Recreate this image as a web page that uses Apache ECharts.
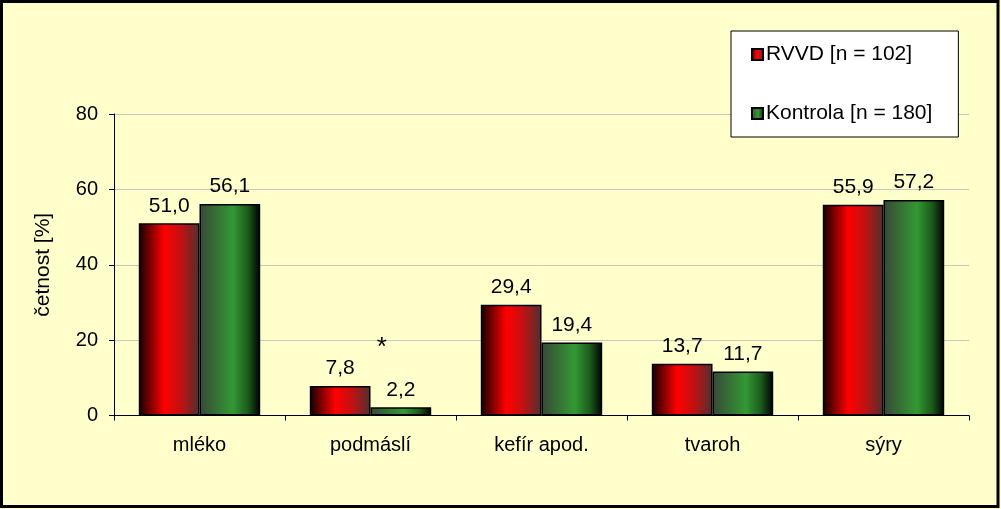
<!DOCTYPE html>
<html><head><meta charset="utf-8">
<script src="https://cdn.jsdelivr.net/npm/echarts@6/dist/echarts.min.js"></script>
<style>html,body{margin:0;padding:0;background:#FFFFCC;}#c{width:1001px;height:509px;}</style>
</head><body><div id="c"></div>
<script>
const categories = ['mléko', 'podmáslí', 'kefír apod.', 'tvaroh', 'sýry'];
const seriesNames = ['RVVD [n = 102]', 'Kontrola [n = 180]'];
const rvvd = [51.0, 7.8, 29.4, 13.7, 55.9];
const kontrola = [56.1, 2.2, 19.4, 11.7, 57.2];
const yTicks = [0, 20, 40, 60, 80];
const annotation = { category: 'podmáslí', value: 2.2, text: '*' };

const FONT = 'Liberation Sans, Arial, sans-serif';
const fmt = p => p.value.toFixed(1).replace('.', ',');

const redGrad = new echarts.graphic.LinearGradient(0, 0, 1, 0, [
  { offset: 0, color: '#140000' },
  { offset: 0.42, color: '#ff0000' },
  { offset: 0.7, color: '#c01212' },
  { offset: 1, color: '#503030' }
]);
const greenGrad = new echarts.graphic.LinearGradient(0, 0, 1, 0, [
  { offset: 0, color: '#384838' },
  { offset: 0.55, color: '#339933' },
  { offset: 0.8, color: '#1c5a1c' },
  { offset: 1, color: '#000000' }
]);

const chart = echarts.init(document.getElementById('c'));
chart.setOption({
  backgroundColor: '#FFFFCC',
  animation: false,
  textStyle: { fontFamily: FONT },
  graphic: [{
    type: 'rect', z: 100,
    shape: { x: 1.5, y: 1.5, width: 996.5, height: 505 },
    style: { fill: 'none', stroke: '#000', lineWidth: 3 }
  }],
  grid: { left: 114, right: 32, top: 114, bottom: 93.5 },
  legend: {
    data: seriesNames,
    orient: 'vertical',
    left: 731, top: 31,
    padding: [13, 26, 13, 20],
    itemGap: 38,
    itemWidth: 11, itemHeight: 11,
    icon: 'rect',
    backgroundColor: '#ffffff',
    borderColor: '#000', borderWidth: 1,
    textStyle: { fontSize: 21, color: '#000', fontFamily: FONT, padding: [0, 0, 0, -2] }
  },
  xAxis: {
    type: 'category',
    data: categories,
    axisLine: { lineStyle: { color: '#000', width: 1 } },
    axisTick: { show: true, length: 5, lineStyle: { color: '#000' } },
    axisLabel: { fontSize: 20, color: '#000', margin: 20, fontFamily: FONT }
  },
  yAxis: {
    type: 'value',
    min: yTicks[0], max: yTicks[yTicks.length - 1], interval: 20,
    name: 'četnost [%]',
    nameLocation: 'middle',
    nameGap: 60,
    nameTextStyle: { fontSize: 21, color: '#000', fontFamily: FONT },
    axisLine: { show: true, lineStyle: { color: '#000', width: 1 } },
    axisTick: { show: true, length: 5, lineStyle: { color: '#000' } },
    axisLabel: { fontSize: 20, color: '#000', margin: 16, fontFamily: FONT },
    splitLine: { show: true, lineStyle: { color: '#c8c8c0', width: 1 } }
  },
  series: [
    {
      name: seriesNames[0], type: 'bar', data: rvvd,
      barGap: '0%', barCategoryGap: '29%',
      itemStyle: { color: redGrad, borderColor: '#000', borderWidth: 1.5 },
      label: { show: true, position: 'top', distance: 7, formatter: fmt, fontSize: 21, color: '#000', fontFamily: FONT }
    },
    {
      name: seriesNames[1], type: 'bar', data: kontrola,
      barGap: '0%', barCategoryGap: '29%',
      itemStyle: { color: greenGrad, borderColor: '#000', borderWidth: 1.5 },
      label: { show: true, position: 'top', distance: 7, formatter: fmt, fontSize: 21, color: '#000', fontFamily: FONT },
      markPoint: {
        symbol: 'circle', symbolSize: 0,
        data: [{ coord: [annotation.category, annotation.value], value: annotation.text }],
        label: { show: true, formatter: annotation.text, fontSize: 26, color: '#000', offset: [-19, -59], fontFamily: FONT }
      }
    }
  ]
});
</script></body></html>
